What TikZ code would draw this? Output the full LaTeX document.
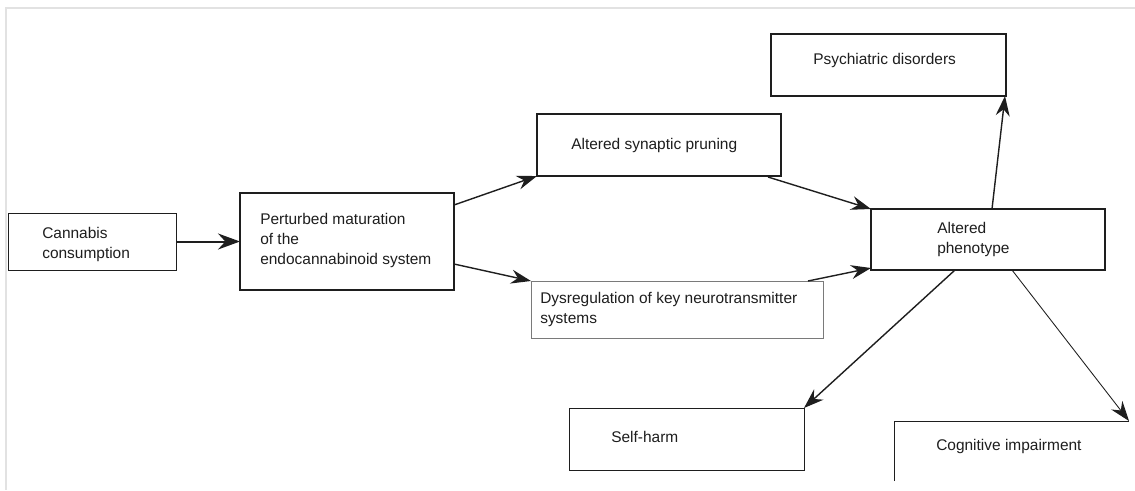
\documentclass[tikz,border=0pt]{standalone}
\usepackage{fontspec}
\setmainfont{Liberation Sans}
\usetikzlibrary{arrows.meta,calc}
\definecolor{ink}{HTML}{1E1E1E}
\definecolor{frame}{HTML}{E2E2E2}
\definecolor{soft}{HTML}{7A7A7A}
\begin{document}
\begin{tikzpicture}[x=0.75pt,y=-0.75pt,
  font=\fontsize{11.6}{15}\selectfont,
  box/.style={draw=ink, line width=0.95pt, inner sep=0pt, outer sep=0pt},
  thinbox/.style={draw=ink, line width=0.75pt, inner sep=0pt, outer sep=0pt},
  greybox/.style={draw=soft, line width=0.75pt, inner sep=0pt, outer sep=0pt},
  txt/.style={anchor=west, align=left, inner sep=0pt, text=ink},
  arr/.style={draw=ink, line width=1.05pt, -{Stealth[length=15pt,width=10.5pt,inset=5pt]}},
  bigarr/.style={draw=ink, line width=1.5pt, -{Stealth[length=16.5pt,width=12pt,inset=5.5pt]}},
  finearr/.style={draw=ink, line width=0.65pt, -{Stealth[length=15pt,width=10.5pt,inset=5pt]}}
]
\useasboundingbox (0,0) rectangle (1135,490);
\fill[white] (0,0) rectangle (1135,490);
% faint frame
\draw[frame, line width=1.5pt] (6,490) -- (6,8) -- (1135,8);

% boxes
\node[thinbox, minimum width=126pt, minimum height=42.75pt] (cb) at (92,241.5) {};
\node[box, line width=1.4pt, minimum width=160.5pt, minimum height=72.75pt] (pm) at (347,241.5) {};
\node[box, minimum width=183pt, minimum height=46.5pt] (sp) at (659,145) {};
\node[greybox, minimum width=219pt, minimum height=42.75pt] (dr) at (677,309.5) {};
\node[box, minimum width=175.5pt, minimum height=45.75pt] (ph) at (988,239.5) {};
\node[box, minimum width=176.25pt, minimum height=46.5pt] (ps) at (888.5,65) {};
\node[thinbox, minimum width=176.25pt, minimum height=46.5pt] (sh) at (686.5,439) {};
\node[inner sep=0pt, outer sep=0pt, minimum width=176.25pt, minimum height=45pt] (cg) at (1011.5,451) {};
\draw[ink, line width=0.75pt] (cg.south west) -- (cg.north west) -- (cg.north east);

% texts
\node[txt] (cbt) at (42,244.5) {Cannabis\\consumption};
\node[txt] (pmt) at (260,240.5) {Perturbed maturation\\of the\\endocannabinoid system};
\node[txt] (spt) at (571,145.5) {Altered synaptic pruning};
\node[txt] (drt) at (540,309) {Dysregulation of key neurotransmitter\\systems};
\node[txt] (pht) at (937,239) {Altered\\phenotype};
\node[txt] (pst) at (813,60) {Psychiatric disorders};
\node[txt] (sht) at (611,436.5) {Self-harm};
\node[txt] (cgt) at (936,446.5) {Cognitive impairment};

% connectors
\draw[bigarr] (cb.east) -- (pm.west);
\draw[arr] ($(pm.north east)+(0,12)$) -- (sp.south west);
\draw[arr] ($(pm.south east)+(0,-26)$) -- (dr.north west);
\draw[arr] ($(sp.south east)+(-13,1)$) -- (ph.north west);
\draw[arr] ($(dr.north east)+(-15,0)$) -- ($(ph.south west)+(0,-2)$);
\draw[arr] ($(ph.north)+(4,0)$) -- ($(ps.south east)+(-1,0)$);
\draw[arr] ($(ph.south)+(-33,0)$) -- (sh.north east);
\draw[finearr] ($(ph.south)+(24,0)$) -- (cg.north east);
\end{tikzpicture}
\end{document}
